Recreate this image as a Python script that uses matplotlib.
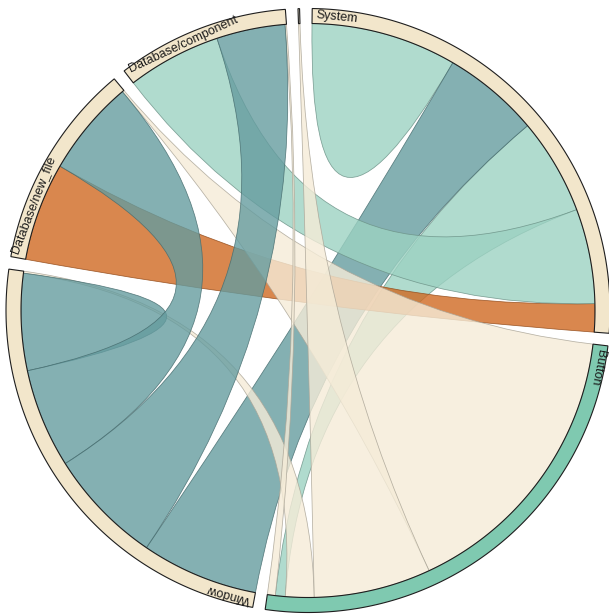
import numpy as np
import matplotlib
matplotlib.use("Agg")
import matplotlib.pyplot as plt
from matplotlib.path import Path
from matplotlib.patches import PathPatch, Polygon
import matplotlib.colors as mcolors

# Groups around the circle (clockwise from the top); the last one is a tiny unnamed group
groups = ["System", "Button", "Window", "Database/new_file", "Database/component", ""]

# flows[i][j]: share of group i's arc devoted to its link with group j
flows = [
    [29.5, 19.5, 19.6, 5.7, 19.2, 0.0],
    [2.0, 0.0, 5.8, 58.3, 1.6, 23.7],
    [23.7, 0.4, 19.6, 20.1, 23.5, 0.0],
    [19.9, 0.4, 19.5, 0.0, 0.0, 0.0],
    [19.0, 0.3, 13.9, 0.0, 0.0, 0.0],
    [0.0, 0.3, 0.0, 0.0, 0.0, 0.0],
]

ribbon_colors = ["#9cd2c2", "#f5ecd8", "#659c9f", "#d06922", "#9cd2c2", "#f5ecd8"]
ring_colors = ["#f2e6cb", "#7fc9b0", "#f2e6cb", "#f2e6cb", "#f2e6cb", "#f2e6cb"]

W, H = 609, 616
CX, CY = 308.0, 310.5
R_OUT, R_IN = 302.0, 287.0
PAD = 2.4
ROT = 0.8

fig = plt.figure(figsize=(W / 100, H / 100), dpi=100)
ax = fig.add_axes([0, 0, 1, 1])
ax.set_xlim(0, W)
ax.set_ylim(H, 0)
ax.axis("off")


def pt(phi, r):
    a = np.radians(phi)
    return (CX + r * np.sin(a), CY - r * np.cos(a))


def arc(a0, a1, r):
    n = max(2, int(abs(a1 - a0) / 0.4) + 2)
    return [pt(a, r) for a in np.linspace(a0, a1, n)]


# ---- chord layout (subgroups sorted by descending value) ----
n = len(groups)
total = sum(sum(row) for row in flows)
k = (360.0 - PAD * n) / total
sub = {}
group_span = []
x = ROT
for i in range(n):
    g0 = x
    order = sorted(range(n), key=lambda j: (-flows[i][j], j))
    for j in order:
        v = flows[i][j]
        if v > 0:
            sub[(i, j)] = (x, x + v * k)
            x += v * k
    group_span.append((g0, x))
    x += PAD


def darker(c, f=0.7):
    r, g, b = mcolors.to_rgb(c)
    return (r * f, g * f, b * f)


def ribbon(src, tgt):
    a0, a1 = src
    verts, codes = [], []
    pts = arc(a0, a1, R_IN)
    verts += pts
    codes += [Path.MOVETO] + [Path.LINETO] * (len(pts) - 1)
    if tgt is not None:
        b0, b1 = tgt
        verts += [(CX, CY), pt(b0, R_IN)]
        codes += [Path.CURVE3, Path.CURVE3]
        tp = arc(b0, b1, R_IN)[1:]
        verts += tp
        codes += [Path.LINETO] * len(tp)
    verts += [(CX, CY), pt(a0, R_IN)]
    codes += [Path.CURVE3, Path.CURVE3]
    verts.append(pt(a0, R_IN))
    codes.append(Path.CLOSEPOLY)
    return Path(verts, codes)


# ---- ribbons, in chord order; colour from the heavier end ----
for i in range(n):
    for j in range(i, n):
        vij, vji = flows[i][j], flows[j][i]
        if vij <= 0 and vji <= 0:
            continue
        s, t = (i, j) if vij >= vji else (j, i)
        col = ribbon_colors[s]
        if i == j:
            path = ribbon(sub[(i, i)], None)
        else:
            path = ribbon(sub[(s, t)], sub[(t, s)])
        ax.add_patch(PathPatch(path, facecolor=mcolors.to_rgba(col, 0.8),
                               edgecolor=(*darker(col), 0.85), lw=0.55,
                               zorder=2))

# ---- outer ring segments ----
for i in range(n):
    g0, g1 = group_span[i]
    poly = arc(g0, g1, R_OUT) + arc(g1, g0, R_IN)
    ax.add_patch(Polygon(poly, closed=True, facecolor=ring_colors[i],
                         edgecolor="#1e1e1e", lw=0.8, zorder=3))

# ---- labels along the ring ----
fig.canvas.draw()
renderer = fig.canvas.get_renderer()
R_TXT = (R_OUT + R_IN) / 2
for i in range(n):
    if not groups[i]:
        continue
    g0, g1 = group_span[i]
    t = ax.text(0, 0, groups[i], fontsize=9, family="Liberation Sans",
                color="#1a1a1a", ha="center", va="center",
                rotation_mode="anchor", zorder=4)
    w = t.get_window_extent(renderer=renderer).width
    phi = g0 + 0.8 + np.degrees((w / 2) / R_TXT)
    px, py = pt(phi, R_TXT)
    t.set_position((px, py))
    t.set_rotation(-phi)

fig.savefig("out.png", dpi=100, facecolor="white")
